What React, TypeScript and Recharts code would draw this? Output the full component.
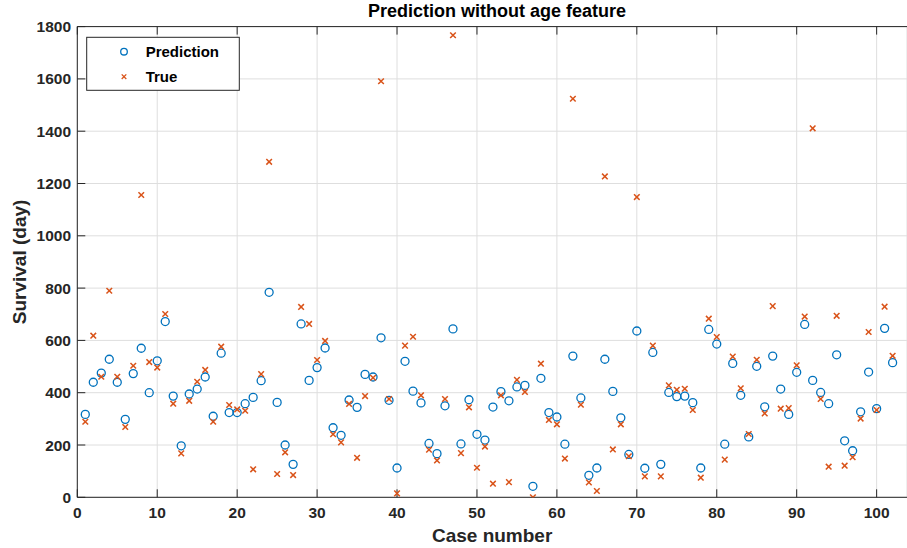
import React from 'react';
import { ScatterChart, Scatter, XAxis, YAxis, CartesianGrid } from 'recharts';

const caseNumbers: number[] = Array.from({ length: 102 }, (_, i) => i + 1);

const prediction: number[] = [
  317, 440, 475, 528, 440, 298, 473, 570, 400, 522,
  672, 387, 197, 395, 414, 460, 310, 551, 324, 324,
  358, 382, 446, 784, 363, 200, 126, 663, 447, 496,
  571, 266, 237, 372, 344, 470, 460, 610, 371, 112,
  520, 406, 361, 206, 167, 350, 644, 204, 373, 241,
  219, 345, 404, 369, 422, 428, 42, 455, 324, 307,
  203, 540, 380, 84, 112, 528, 405, 304, 164, 636,
  111, 554, 126, 401, 385, 387, 362, 112, 642, 586,
  203, 512, 390, 231, 501, 346, 540, 414, 317, 478,
  661, 447, 401, 358, 545, 216, 178, 327, 479, 339,
  646, 515,
];

const trueValues: number[] = [
  289, 618, 461, 790, 461, 269, 503, 1156, 517, 496,
  701, 358, 168, 369, 442, 487, 289, 576, 353, 336,
  331, 107, 471, 1283, 89, 172, 85, 728, 663, 525,
  598, 241, 210, 357, 151, 387, 457, 1591, 376, 15,
  580, 614, 390, 182, 141, 376, 1767, 169, 344, 113,
  194, 52, 390, 58, 449, 403, 0, 511, 296, 279,
  148, 1524, 354, 57, 24, 1227, 183, 279, 157, 1148,
  80, 580, 80, 428, 411, 415, 334, 75, 683, 613,
  144, 538, 417, 242, 526, 321, 731, 339, 341, 505,
  691, 1411, 376, 117, 694, 121, 153, 301, 632, 334,
  729, 541,
];

const xTicks: number[] = [0, 10, 20, 30, 40, 50, 60, 70, 80, 90, 100];
const yTicks: number[] = [0, 200, 400, 600, 800, 1000, 1200, 1400, 1600, 1800];

const predData = caseNumbers.map((c, i) => ({ x: c, y: prediction[i] }));
const trueData = caseNumbers.map((c, i) => ({ x: c, y: trueValues[i] }));

const BLUE = '#0072BD';
const ORANGE = '#D95319';
const AXIS = '#262626';
const FONT = '"Liberation Sans", Arial, Helvetica, sans-serif';

const CircleShape = (props: any) => {
  const { cx, cy } = props;
  if (cx == null || cy == null) return <g />;
  return <circle cx={cx} cy={cy} r={4} fill="none" stroke={BLUE} strokeWidth={1.3} />;
};

const CrossShape = (props: any) => {
  const { cx, cy } = props;
  if (cx == null || cy == null) return <g />;
  const s = 2.8;
  return (
    <g stroke={ORANGE} strokeWidth={1.5}>
      <line x1={cx - s} y1={cy - s} x2={cx + s} y2={cy + s} />
      <line x1={cx - s} y1={cy + s} x2={cx + s} y2={cy - s} />
    </g>
  );
};

const EmptyTick = () => <g />;

const XLabel = (props: any) => {
  const vb = props.viewBox || {};
  const cx = vb.x + vb.width / 2;
  return (
    <text x={cx} y={vb.y + 44.5} textAnchor="middle" fontFamily={FONT} fontWeight="bold" fontSize={19} fill={AXIS}>
      Case number
    </text>
  );
};

const YLabel = (props: any) => {
  const vb = props.viewBox || {};
  const cy = vb.y + vb.height / 2;
  const x = 26;
  return (
    <text x={x} y={cy} transform={`rotate(-90, ${x}, ${cy})`} textAnchor="middle" fontFamily={FONT} fontWeight="bold" fontSize={19} fill={AXIS}>
      Survival (day)
    </text>
  );
};

export default function App() {
  return (
    <div style={{ position: 'absolute', left: 0, top: 0, width: 907, height: 548, background: '#ffffff', overflow: 'hidden' }}>
      <ScatterChart width={907} height={548} margin={{ top: 25.6, right: 0, bottom: 0, left: 0 }}>
        <CartesianGrid stroke="#dedede" strokeWidth={1} />
        <XAxis
          type="number"
          dataKey="x"
          domain={[0, 103.8]}
          ticks={xTicks}
          interval={0}
          allowDataOverflow
          height={50.7}
          tickSize={-8}
          tickMargin={17.7}
          axisLine={{ stroke: AXIS, strokeWidth: 1 }}
          tickLine={{ stroke: AXIS, strokeWidth: 1 }}
          tick={{ fill: AXIS, fontFamily: FONT, fontWeight: 'bold', fontSize: 15.5 }}
          label={<XLabel />}
        />
        <XAxis
          xAxisId="top"
          orientation="top"
          type="number"
          dataKey="x"
          domain={[0, 103.8]}
          ticks={xTicks}
          interval={0}
          allowDataOverflow
          height={1}
          tickSize={-8}
          axisLine={{ stroke: AXIS, strokeWidth: 1 }}
          tickLine={{ stroke: AXIS, strokeWidth: 1 }}
          tick={<EmptyTick />}
        />
        <YAxis
          type="number"
          dataKey="y"
          domain={[0, 1800]}
          ticks={yTicks}
          interval={0}
          allowDataOverflow
          width={77.3}
          tickSize={-8}
          tickMargin={14.3}
          axisLine={{ stroke: AXIS, strokeWidth: 1 }}
          tickLine={{ stroke: AXIS, strokeWidth: 1 }}
          tick={{ fill: AXIS, fontFamily: FONT, fontWeight: 'bold', fontSize: 15.5 }}
          label={<YLabel />}
        />
        <Scatter name="Prediction" data={predData} shape={<CircleShape />} isAnimationActive={false} />
        <Scatter name="True" data={trueData} shape={<CrossShape />} isAnimationActive={false} />
      </ScatterChart>
      <svg width={907} height={548} style={{ position: 'absolute', left: 0, top: 0, pointerEvents: 'none' }}>
        <text x={497} y={17} textAnchor="middle" fontFamily={FONT} fontWeight="bold" fontSize={18} fill="#000">
          Prediction without age feature
        </text>
        <rect x={86.7} y={37.3} width={152.6} height={53} fill="#ffffff" stroke={AXIS} strokeWidth={1} />
        <circle cx={124} cy={51.7} r={3.3} fill="none" stroke={BLUE} strokeWidth={1.3} />
        <text x={145.7} y={56.8} fontFamily={FONT} fontWeight="bold" fontSize={15} fill="#000">Prediction</text>
        <g stroke={ORANGE} strokeWidth={1.3}>
          <line x1={121.7} y1={74.4} x2={126.3} y2={79} />
          <line x1={121.7} y1={79} x2={126.3} y2={74.4} />
        </g>
        <text x={145.7} y={82.3} fontFamily={FONT} fontWeight="bold" fontSize={15} fill="#000">True</text>
      </svg>
    </div>
  );
}
